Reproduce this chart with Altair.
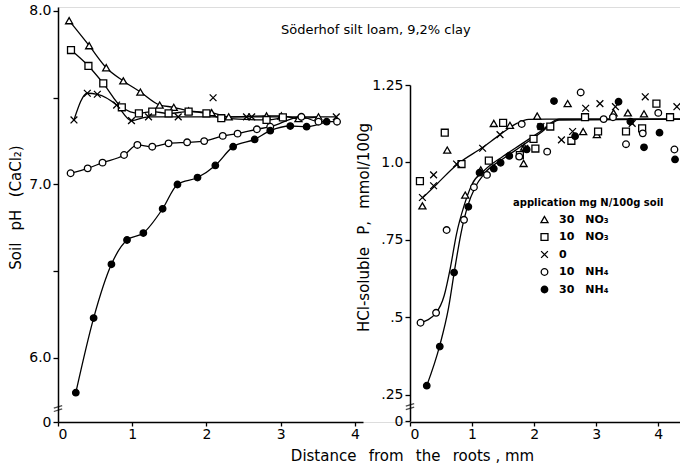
import altair as alt
import pandas as pd

# ---------------- data ----------------
SP = "\u2002\u2002"
SERIES = ["30" + SP + "NO₃", "10" + SP + "NO₃", "0", "10" + SP + "NH₄", "30" + SP + "NH₄"]

# Left panel: soil pH (CaCl2) vs distance from roots (mm)
ph_tri_d = [0.15, 0.42, 0.65, 0.88, 1.11, 1.37, 1.56, 1.76, 2.07, 2.30, 2.81, 3.01, 3.24, 3.51]
ph_tri_v = [7.944, 7.80, 7.673, 7.597, 7.533, 7.458, 7.445, 7.424, 7.414, 7.39, 7.395, 7.395, 7.38, 7.39]
ph_sq_d = [0.175, 0.41, 0.61, 0.86, 1.09, 1.27, 1.49, 1.76, 2.00, 2.20, 2.81, 3.03]
ph_sq_v = [7.775, 7.683, 7.583, 7.445, 7.41, 7.42, 7.41, 7.42, 7.41, 7.382, 7.372, 7.387]
ph_x_d = [0.215, 0.395, 0.53, 0.79, 0.99, 1.22, 1.62, 2.09, 2.54, 2.61, 3.75]
ph_x_v = [7.372, 7.526, 7.52, 7.458, 7.368, 7.39, 7.39, 7.50, 7.39, 7.39, 7.39]
ph_x_off = [2.09]  # point not on the drawn line
ph_oc_d = [0.17, 0.40, 0.60, 0.89, 1.07, 1.27, 1.49, 1.74, 1.97, 2.22, 2.42, 2.68, 2.86, 3.28, 3.51, 3.76]
ph_oc_v = [7.065, 7.093, 7.126, 7.17, 7.228, 7.218, 7.237, 7.243, 7.25, 7.28, 7.293, 7.318, 7.333, 7.39, 7.362, 7.362]
ph_fc_d = [0.24, 0.48, 0.72, 0.93, 1.15, 1.41, 1.61, 1.88, 2.12, 2.36, 2.65, 2.86, 3.13, 3.35, 3.62]
ph_fc_v = [5.80, 6.23, 6.54, 6.68, 6.72, 6.86, 7.00, 7.04, 7.11, 7.218, 7.26, 7.31, 7.337, 7.333, 7.362]

# Right panel: HCl-soluble P (mmol/100 g)
p_tri_d = [0.20, 0.60, 0.89, 1.14, 1.35, 1.61, 1.84, 1.83, 2.05, 2.54, 2.79, 3.01, 3.28, 3.51, 3.77]
p_tri_v = [0.86, 1.04, 0.895, 0.976, 1.126, 1.12, 1.05, 0.997, 1.15, 1.19, 1.10, 1.09, 1.16, 1.16, 1.157]
p_sq_d = [0.16, 0.56, 0.83, 1.27, 1.50, 1.77, 1.99, 2.02, 2.26, 2.60, 2.82, 3.03, 3.48, 3.74, 3.97, 4.19]
p_sq_v = [0.94, 1.096, 0.995, 1.006, 1.128, 1.024, 1.076, 1.045, 1.116, 1.07, 1.146, 1.10, 1.10, 1.11, 1.19, 1.146]
p_x_d = [0.20, 0.38, 0.38, 0.75, 1.17, 1.45, 1.85, 2.11, 2.44, 2.62, 2.83, 3.06, 3.31, 3.58, 3.79, 4.30]
p_x_v = [0.887, 0.96, 0.925, 0.995, 1.046, 1.09, 1.046, 1.116, 1.073, 1.10, 1.175, 1.19, 1.18, 1.126, 1.212, 1.18]
p_oc_d = [0.17, 0.42, 0.59, 0.87, 1.03, 1.24, 1.76, 1.80, 2.21, 2.75, 3.12, 3.27, 3.48, 3.75, 4.00, 4.26]
p_oc_v = [0.483, 0.515, 0.782, 0.815, 0.92, 0.96, 1.019, 1.124, 1.035, 1.226, 1.14, 1.146, 1.059, 1.094, 1.16, 1.042]
p_fc_d = [0.27, 0.48, 0.71, 0.94, 1.12, 1.35, 1.46, 1.60, 1.88, 2.10, 2.32, 2.66, 3.36, 3.55, 3.77, 4.02, 4.27]
p_fc_v = [0.28, 0.406, 0.645, 0.857, 0.967, 0.98, 0.999, 1.021, 1.042, 1.116, 1.198, 1.085, 1.196, 1.132, 1.049, 1.096, 1.01]

# fitted curves drawn in the right panel
fit_no3_d = [0.20, 0.43, 0.75, 1.18, 1.45, 1.72, 1.91, 2.2, 4.4]
fit_no3_v = [0.885, 0.93, 0.992, 1.05, 1.09, 1.126, 1.139, 1.14, 1.14]
fit_nh4a_d = [0.17, 0.42, 0.55, 0.65, 0.75, 0.87, 1.0, 1.2, 1.5, 1.8, 2.1, 2.4, 4.4]
fit_nh4a_v = [0.483, 0.515, 0.57, 0.66, 0.77, 0.86, 0.93, 0.975, 1.02, 1.06, 1.10, 1.14, 1.14]
fit_nh4b_d = [0.27, 0.48, 0.62, 0.72, 0.82, 0.93, 1.05, 1.2, 1.5, 1.8, 2.1, 2.4, 4.4]
fit_nh4b_v = [0.28, 0.41, 0.53, 0.655, 0.77, 0.86, 0.92, 0.965, 1.012, 1.053, 1.095, 1.137, 1.14]

x_ticks = [0, 1, 2, 3, 4]

# ---------------- tables ----------------
def table(pairs, vname):
    rows = []
    for s, d, v in pairs:
        for a, b in zip(d, v):
            rows.append({"series": s, "dist": a, vname: b})
    return pd.DataFrame(rows)

left = table([(SERIES[0], ph_tri_d, ph_tri_v), (SERIES[1], ph_sq_d, ph_sq_v),
              (SERIES[2], ph_x_d, ph_x_v), (SERIES[3], ph_oc_d, ph_oc_v),
              (SERIES[4], ph_fc_d, ph_fc_v)], "ph")
left["online"] = ~((left["series"] == SERIES[2]) & (left["dist"].isin(ph_x_off)))
right = table([(SERIES[0], p_tri_d, p_tri_v), (SERIES[1], p_sq_d, p_sq_v),
               (SERIES[2], p_x_d, p_x_v), (SERIES[3], p_oc_d, p_oc_v),
               (SERIES[4], p_fc_d, p_fc_v)], "p")
fits = table([("a", fit_no3_d, fit_no3_v), ("b", fit_nh4a_d, fit_nh4a_v),
              ("c", fit_nh4b_d, fit_nh4b_v)], "p")

FONT = "DejaVu Sans"
G = " \u2002"  # wide word gap as in the original lettering
XPATH = "M-1,-1L1,1M-1,1L1,-1"
shape_scale = alt.Scale(domain=SERIES, range=["triangle-up", "square", XPATH, "circle", "circle"])
fill_scale = alt.Scale(domain=SERIES, range=["white", "white", "white", "white", "black"])
stroke_scale = alt.Scale(domain=SERIES, range=["black"] * 5)
size_scale = alt.Scale(domain=SERIES, range=[50, 42, 28, 42, 42])

# ---------------- scales ----------------
W, H = 622, 415
lx = alt.Scale(domain=[0, 4.11], range=[0, 305], nice=False, zero=False)
ly = alt.Scale(domain=[5.631, 8.023], range=[H, 0], nice=False, zero=False)
rx = alt.Scale(domain=[0, 4.35], range=[352, 622], nice=False, zero=False)
ry = alt.Scale(domain=[0.166, 1.25], range=[414, 78], nice=False, zero=False)

ax_common = dict(grid=False, labelFont=FONT, labelFontSize=14, labelColor="black",
                 domainColor="black", domainWidth=1.5, tickColor="black", tickWidth=1.3,
                 titleFont=FONT, titleColor="black", titleFontWeight="normal")

lx_axis = alt.Axis(values=x_ticks, orient="bottom", tickSize=4, labelPadding=1,
                   title="Distance" + G + "from" + G + "the" + G + "roots , mm", titleFontSize=15,
                   titleX=354, titleY=33, titleAlign="center", titleBaseline="middle",
                   **ax_common)
ly_axis = alt.Axis(values=[5.631, 6.0, 6.5, 7.0, 7.5, 8.0], orient="left", tickSize=5,
                   labelExpr="datum.value < 5.9 ? '0' : (datum.value == 6.5 || datum.value == 7.5) ? '' : format(datum.value, '.1f')",
                   title="Soil" + G + "pH" + G + "(CaCl₂)", titleFontSize=15,
                   titleX=-43, titleY=200, titleAngle=-90, titleAlign="center", titleBaseline="middle",
                   **ax_common)
rx_axis = alt.Axis(values=x_ticks, orient="bottom", tickSize=4, labelPadding=1, title=None,
                   **ax_common)
ry_axis = alt.Axis(values=[0.166, 0.25, 0.5, 0.75, 1.0, 1.25], orient="left", tickSize=5, offset=-352,
                   labelExpr="datum.value < 0.2 ? '0' : datum.value < 0.3 ? '.25' : datum.value < 0.6 ? '.5' : datum.value < 0.8 ? '.75' : datum.value < 1.1 ? '1.0' : '1.25'",
                   title="HCl-soluble" + G + "P," + G + "mmol/100g", titleFontSize=15,
                   titleX=-47, titleY=220, titleAngle=-90, titleAlign="center", titleBaseline="middle",
                   **ax_common)

legend = alt.Legend(title="application mg N/100g soil", orient="none",
                    legendX=455, legendY=191,
                    titleFont=FONT, titleFontSize=10, titleFontWeight="bold", titleColor="black",
                    labelFont=FONT, labelFontSize=11, labelFontWeight="bold", labelColor="black",
                    symbolOffset=26, symbolStrokeWidth=1.3,
                    rowPadding=4.5, titlePadding=6, labelOffset=9, padding=0)

pt_enc = dict(
    shape=alt.Shape("series:N", scale=shape_scale, legend=legend),
    fill=alt.Fill("series:N", scale=fill_scale, legend=legend),
    stroke=alt.Stroke("series:N", scale=stroke_scale, legend=legend),
    size=alt.Size("series:N", scale=size_scale, legend=legend),
)

# ---------------- left panel ----------------
left_lines = alt.Chart(left).transform_filter("datum.online").mark_line(
    color="black", strokeWidth=1.3, interpolate="monotone"
).encode(
    x=alt.X("dist:Q", scale=lx, axis=lx_axis),
    y=alt.Y("ph:Q", scale=ly, axis=ly_axis),
    detail="series:N",
)
left_pts = alt.Chart(left).mark_point(filled=True, strokeWidth=1.3, opacity=1).encode(
    x=alt.X("dist:Q", scale=lx, axis=lx_axis),
    y=alt.Y("ph:Q", scale=ly, axis=ly_axis),
    **pt_enc,
)
left_break = alt.Chart(pd.DataFrame({"dist": [0], "ph": [5.706]})).mark_point(
    shape="M-1,-0.2L1,-0.8M-1,0.6L1,0", size=70, filled=False, stroke="black", strokeWidth=1.3
).encode(x=alt.X("dist:Q", scale=lx, axis=lx_axis), y=alt.Y("ph:Q", scale=ly, axis=ly_axis))

left_panel = alt.layer(left_lines, left_pts, left_break)

# ---------------- right panel ----------------
right_lines = alt.Chart(fits).mark_line(color="black", strokeWidth=1.3, interpolate="monotone").encode(
    x=alt.X("dist:Q", scale=rx, axis=rx_axis),
    y=alt.Y("p:Q", scale=ry, axis=ry_axis),
    detail="series:N",
)
right_pts = alt.Chart(right).mark_point(filled=True, strokeWidth=1.3, opacity=1).encode(
    x=alt.X("dist:Q", scale=rx, axis=rx_axis),
    y=alt.Y("p:Q", scale=ry, axis=ry_axis),
    **pt_enc,
)
right_break = alt.Chart(pd.DataFrame({"dist": [0], "p": [0.211]})).mark_point(
    shape="M-1,-0.2L1,-0.8M-1,0.6L1,0", size=70, filled=False, stroke="black", strokeWidth=1.3
).encode(x=alt.X("dist:Q", scale=rx, axis=rx_axis), y=alt.Y("p:Q", scale=ry, axis=ry_axis))

right_panel = alt.layer(right_lines, right_pts, right_break)

chart = alt.layer(left_panel, right_panel).resolve_scale(
    x="independent", y="independent", shape="shared", fill="shared", size="shared", stroke="shared"
).resolve_axis(x="independent", y="independent").properties(
    width=W, height=H,
    autosize=alt.AutoSizeParams(type="none"),
    padding={"left": 58, "top": 7, "right": 0, "bottom": 47},
    title=alt.TitleParams("Söderhof" + " silt loam, 9,2% clay", anchor="start", dx=273, offset=-33,
                          font=FONT, fontSize=13, fontWeight="normal", color="black"),
).configure_view(stroke=None).configure(background="white")

chart.save("out.html", embed_options={"renderer": "svg", "actions": False})
